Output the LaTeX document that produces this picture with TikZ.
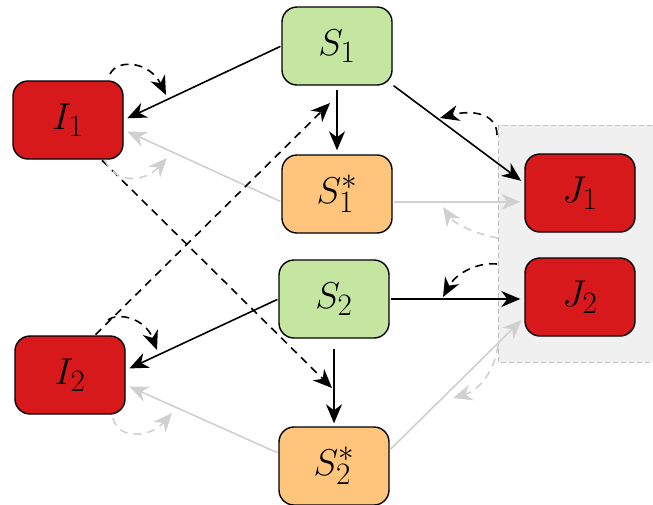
\documentclass[tikz,border=0pt]{standalone}
\usepackage{graphicx}
\usetikzlibrary{arrows.meta}
\definecolor{sgreen}{HTML}{C5E6A0}
\definecolor{sorange}{HTML}{FFC57D}
\definecolor{sred}{HTML}{D7191C}
\definecolor{lgray}{RGB}{208,208,208}
\definecolor{boxfill}{RGB}{240,240,240}
\definecolor{boxline}{RGB}{190,190,190}
\newcommand{\biglab}[1]{\scalebox{1.5}{\Huge$#1$}}
\tikzset{
  statebox/.style={draw=black, line width=1.4pt, rounded corners=15pt, minimum width=110pt, minimum height=78pt, inner sep=0pt},
  gbox/.style={statebox, fill=sgreen},
  obox/.style={statebox, fill=sorange},
  rbox/.style={statebox, fill=sred},
  headed/.style={arrows={-Stealth[length=19pt,width=16pt,inset=6pt]}},
  blk/.style={headed, line width=1.6pt, draw=black, shorten >=4pt, shorten <=1pt},
  gry/.style={headed, line width=1.6pt, draw=lgray, shorten >=4pt, shorten <=1pt},
  dsh/.style={dash pattern=on 8pt off 6pt},
  loopb/.style={headed, line width=1.6pt, dsh, draw=black},
  loopg/.style={headed, line width=1.6pt, dsh, draw=lgray},
}
\begin{document}
\begin{tikzpicture}[x=1pt,y=-1pt]
\useasboundingbox (0,0) rectangle (653,504);
% shaded region
\draw[fill=boxfill, draw=boxline, line width=1pt, dash pattern=on 5pt off 3pt] (498,125) rectangle (670,362);

% nodes
\node[gbox] (S1) at (337,46) {\biglab{S_1}};
\node[obox] (S1s) at (337,194) {\biglab{S_1^*}};
\node[rbox] (I1) at (68,120) {\biglab{I_1}};
\node[rbox] (J1) at (580,193) {\biglab{J_1}};
\node[rbox] (J2) at (580,297) {\biglab{J_2}};
\node[gbox] (S2) at (334,299) {\biglab{S_2}};
\node[rbox] (I2) at (70,375) {\biglab{I_2}};
\node[obox] (S2s) at (334,466) {\biglab{S_2^*}};

\coordinate (d1) at (332,388);
\coordinate (d2) at (330,103);

% gray connectors
\draw[gry] (S1s.-8) -- (S1s.-8 -| J1.west);
\draw[gry] (S1s.188) -- (I1.-10);
\draw[gry] (S2s.167) -- (I2.-10);
\draw[gry] (S2s.16) -- (J2.200);

% black connectors
\draw[blk] (S1.west) -- (I1.east);
\draw[blk, shorten <=4pt] (S1.south) -- (S1s.north);
\draw[blk] (S1.-35) -- (J1.170);
\draw[blk] (S2.west) -- (I2.5);
\draw[blk, shorten <=10pt, shorten >=3pt] (S2.south) -- (S2s.north);
\draw[blk] (S2.east) -- (S2.east -| J2.west);

% dashed cross connectors
\draw[blk, dsh, shorten >=0pt] (I1.-50) -- (d1);
\draw[blk, dsh, shorten >=0pt] (I2.58) -- (d2);

% self loops
\draw[loopb] (110,74) .. controls (118,58) and (150,62) .. (166,95);
\draw[loopg] (105,160) .. controls (115,185) and (145,182) .. (167,158);
\draw[loopb] (108,320) .. controls (118,312) and (145,318) .. (157,350);
\draw[loopg] (113,418) .. controls (118,440) and (150,438) .. (172,413);
\draw[loopb] (497,135) .. controls (497,112) and (470,110) .. (440,118);
\draw[loopg] (498,238) .. controls (480,235) and (455,225) .. (443,207);
\draw[loopb] (497,264) .. controls (475,262) and (455,275) .. (443,297);
\draw[loopg] (498,345) .. controls (495,370) and (480,390) .. (453,398);
\end{tikzpicture}
\end{document}
